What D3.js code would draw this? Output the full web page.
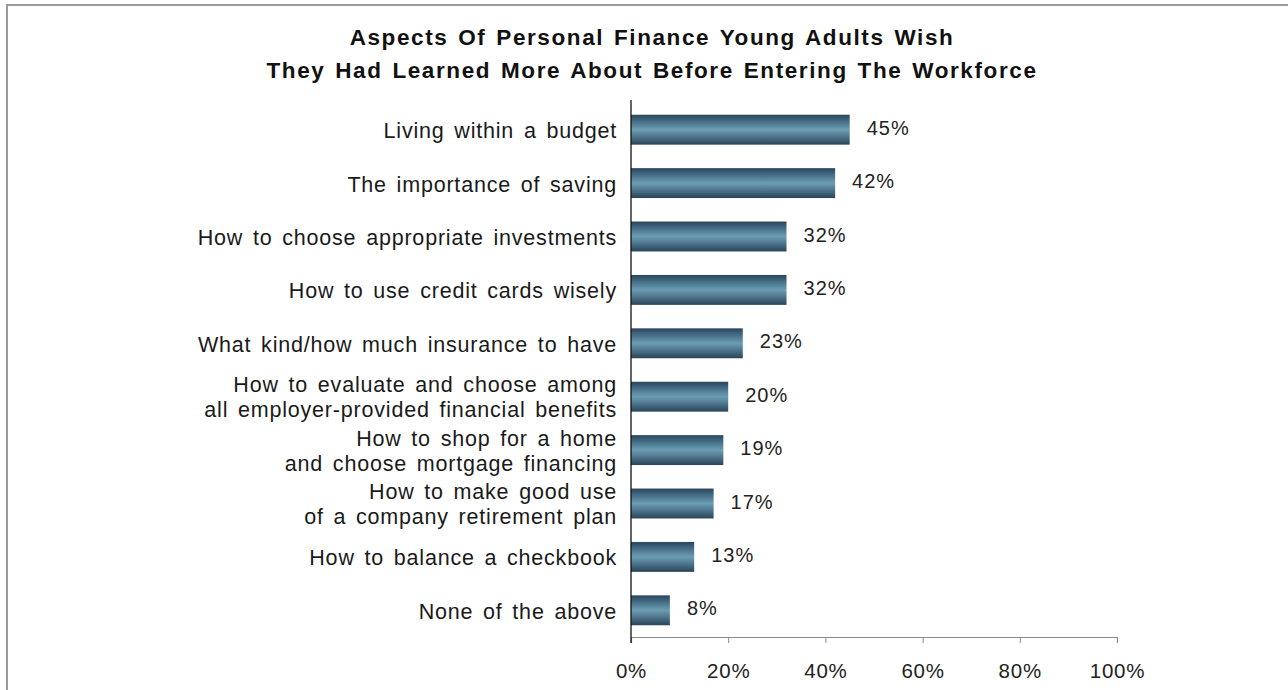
<!DOCTYPE html>
<html>
<head>
<meta charset="utf-8">
<script src="https://cdn.jsdelivr.net/npm/d3@7"></script>
<style>
  html, body { margin: 0; padding: 0; background: #fff; }
  svg { display: block; }
</style>
</head>
<body>
<svg id="chart" width="1288" height="690"></svg>
<script>
// Survey answers, top to bottom
const categories = [
  ["Living within a budget"],
  ["The importance of saving"],
  ["How to choose appropriate investments"],
  ["How to use credit cards wisely"],
  ["What kind/how much insurance to have"],
  ["How to evaluate and choose among", "all employer-provided financial benefits"],
  ["How to shop for a home", "and choose mortgage financing"],
  ["How to make good use", "of a company retirement plan"],
  ["How to balance a checkbook"],
  ["None of the above"]
];
const values = [45, 42, 32, 32, 23, 20, 19, 17, 13, 8];
const tickValues = [0, 20, 40, 60, 80, 100];
const titleLines = [
  "Aspects Of Personal Finance Young Adults Wish",
  "They Had Learned More About Before Entering The Workforce"
];

const svg = d3.select("#chart");
const font = "'Liberation Sans', Arial, sans-serif";

// outer frame (runs off the right and bottom edges)
svg.append("rect")
  .attr("x", 7).attr("y", 5)
  .attr("width", 1300).attr("height", 700)
  .attr("fill", "none").attr("stroke", "#9a9a9a").attr("stroke-width", 2);

// bar shading: dark edges, light centre
const defs = svg.append("defs");
const grad = defs.append("linearGradient")
  .attr("id", "barGrad").attr("x1", 0).attr("y1", 0).attr("x2", 0).attr("y2", 1);
[[0, "#2a4559"], [0.18, "#3f6680"], [0.5, "#6c9db3"], [0.8, "#44697f"], [1, "#2a4357"]]
  .forEach(([o, c]) => grad.append("stop").attr("offset", o).attr("stop-color", c));

// title
svg.append("g").selectAll("text").data(titleLines).join("text")
  .attr("x", 652).attr("y", (d, i) => 45 + i * 33)
  .attr("text-anchor", "middle")
  .attr("font-family", font).attr("font-weight", "bold")
  .attr("font-size", 22.5).attr("letter-spacing", 1.6).attr("word-spacing", 2)
  .attr("fill", "#111")
  .text(d => d);

const x = d3.scaleLinear().domain([0, 100]).range([631, 1117]);
const y = d3.scaleBand().domain(d3.range(categories.length))
  .range([103, 637]).paddingInner(0.44).paddingOuter(0.22);

// bars
svg.append("g").selectAll("rect").data(values).join("rect")
  .attr("x", x(0))
  .attr("y", (d, i) => y(i))
  .attr("width", d => x(d) - x(0))
  .attr("height", y.bandwidth())
  .attr("fill", "url(#barGrad)");

// value labels
svg.append("g").selectAll("text").data(values).join("text")
  .attr("x", d => x(d) + 17)
  .attr("y", (d, i) => y(i) + y.bandwidth() / 2 - 2)
  .attr("dy", "0.35em")
  .attr("font-family", font).attr("font-size", 20).attr("letter-spacing", 1)
  .attr("fill", "#222")
  .text(d => d + "%");

// category labels
const catG = svg.append("g");
categories.forEach((lines, i) => {
  const cy = y(i) + y.bandwidth() / 2;
  const t = catG.append("text")
    .attr("x", 617).attr("text-anchor", "end")
    .attr("font-family", font).attr("font-size", 21.5)
    .attr("letter-spacing", 0.8).attr("word-spacing", 3)
    .attr("fill", "#1a1a1a");
  lines.forEach((ln, j) => {
    const off = lines.length === 1 ? 1 : (j === 0 ? -12 : 13);
    t.append("tspan").attr("x", 617).attr("y", cy + off).attr("dy", "0.35em").text(ln);
  });
});

// x axis
const xAxis = d3.axisBottom(x).tickValues(tickValues).tickSize(6).tickPadding(20)
  .tickFormat(d => d + "%");
const ax = svg.append("g").attr("transform", "translate(0,637)").call(xAxis);
ax.select(".domain").attr("stroke", "#8c8c8c").attr("stroke-width", 1.2);
ax.selectAll(".tick line").attr("stroke", "#8c8c8c");
ax.selectAll(".tick text").attr("font-family", font).attr("font-size", 20.5)
  .attr("letter-spacing", 0.8).attr("fill", "#222");

// y axis line
svg.append("line")
  .attr("x1", x(0)).attr("x2", x(0))
  .attr("y1", 100).attr("y2", 643)
  .attr("stroke", "#111").attr("stroke-width", 1.3);
</script>
</body>
</html>
